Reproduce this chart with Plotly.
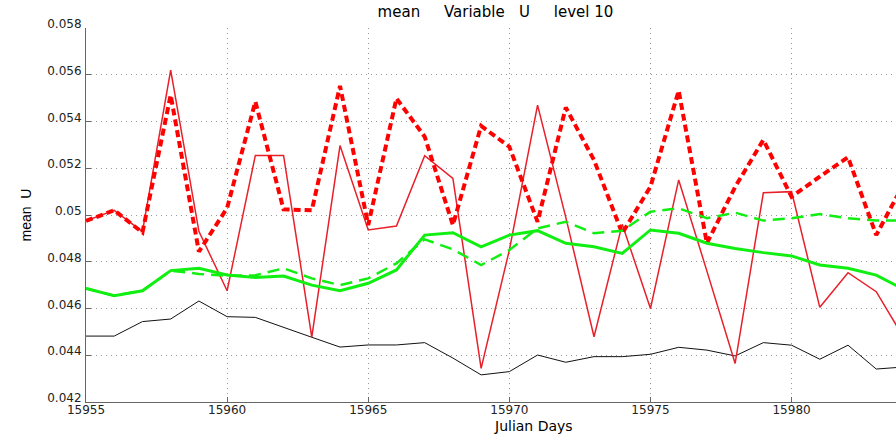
import plotly.graph_objects as go

days = list(range(15955, 15985))

black = [0.04482, 0.04482, 0.04544, 0.04555, 0.04632, 0.04565, 0.04562, 0.04518, 0.04477, 0.04435,
         0.04444, 0.04444, 0.04454, 0.04388, 0.04316, 0.04330, 0.04401, 0.04370, 0.04394, 0.04394,
         0.04404, 0.04434, 0.04422, 0.04397, 0.04454, 0.04443, 0.04383, 0.04443, 0.04341, 0.04350]

red_thin = [0.04975, 0.05020, 0.04929, 0.05620, 0.04930, 0.04676, 0.05255, 0.05255, 0.04478, 0.05297,
            0.04936, 0.04953, 0.05254, 0.05157, 0.04344, 0.04850, 0.05470, 0.04990, 0.04479, 0.04960,
            0.04600, 0.05150, 0.04760, 0.04365, 0.05095, 0.05100, 0.04605, 0.04753, 0.04672, 0.04470]

red_dash = [0.04975, 0.05020, 0.04925, 0.05513, 0.04843, 0.05030, 0.05485, 0.05024, 0.05020, 0.05552,
            0.04957, 0.05499, 0.05335, 0.04957, 0.05381, 0.05292, 0.04971, 0.05460, 0.05235, 0.04922,
            0.05121, 0.05532, 0.04879, 0.05120, 0.05321, 0.05078, 0.05164, 0.05247, 0.04914, 0.05140]

green = [0.04686, 0.04655, 0.04676, 0.04762, 0.04772, 0.04743, 0.04733, 0.04739, 0.04700, 0.04676,
         0.04708, 0.04765, 0.04914, 0.04924, 0.04864, 0.04914, 0.04933, 0.04879, 0.04864, 0.04836,
         0.04936, 0.04922, 0.04879, 0.04857, 0.04839, 0.04825, 0.04786, 0.04772, 0.04743, 0.04680]

green_dash = [0.04686, 0.04655, 0.04676, 0.04762, 0.04748, 0.04740, 0.04742, 0.04772, 0.04729, 0.04700,
              0.04729, 0.04793, 0.04896, 0.04853, 0.04786, 0.04850, 0.04943, 0.04971, 0.04922, 0.04933,
              0.05014, 0.05029, 0.04986, 0.05010, 0.04976, 0.04986, 0.05004, 0.04986, 0.04976, 0.04976]

xticks = [15955, 15960, 15965, 15970, 15975, 15980]
yticks = [0.042, 0.044, 0.046, 0.048, 0.05, 0.052, 0.054, 0.056, 0.058]
ytick_text = ["0.042", "0.044", "0.046", "0.048", "0.05", "0.052", "0.054", "0.056", "0.058"]

fig = go.Figure()
fig.add_trace(go.Scatter(x=days, y=black, mode="lines", line=dict(color="#111111", width=1)))
fig.add_trace(go.Scatter(x=days, y=red_thin, mode="lines", line=dict(color="#e8202a", width=1.5)))
fig.add_trace(go.Scatter(x=days, y=red_dash, mode="lines", line=dict(color="#ff0000", width=4, dash="7px,4px")))
fig.add_trace(go.Scatter(x=days, y=green, mode="lines", line=dict(color="#11ee11", width=3)))
fig.add_trace(go.Scatter(x=days, y=green_dash, mode="lines", line=dict(color="#11ee11", width=2.5, dash="12px,7px")))

xtick_font = dict(family="DejaVu Sans, sans-serif", size=12, color="#222222")
ytick_font = dict(family="DejaVu Sans, sans-serif", size=12, color="#222222")

fig.update_layout(
    width=896, height=434,
    margin=dict(l=86, r=0, t=28, b=32, autoexpand=False),
    paper_bgcolor="white", plot_bgcolor="white",
    showlegend=False,
    font=dict(family="DejaVu Sans, sans-serif", color="black", size=13),
    title=dict(text="mean     Variable   U     level 10", x=0.553, xanchor="center", y=0.972, yanchor="middle",
               font=dict(size=15, family="DejaVu Sans, sans-serif")),
    xaxis=dict(range=[15955, 15983.7], tickvals=xticks, ticktext=[str(t) for t in xticks],
               tickfont=xtick_font, ticklabelstandoff=-3,
               showgrid=True, gridcolor="#999999", griddash="1px,4px", gridwidth=1,
               showline=True, linecolor="#666666", linewidth=1, ticks="inside", ticklen=5,
               tickcolor="#666666", zeroline=False),
    yaxis=dict(range=[0.042, 0.058], tickvals=yticks, ticktext=ytick_text,
               tickfont=ytick_font, ticklabelstandoff=1, ticklabelshift=-4,
               showgrid=True, gridcolor="#999999", griddash="1px,4px", gridwidth=1,
               showline=True, linecolor="#666666", linewidth=1, ticks="inside", ticklen=5,
               tickcolor="#666666", zeroline=False,
               title=dict(text="mean  U", standoff=12,
                          font=dict(size=14, family="Liberation Sans Narrow, Liberation Sans, sans-serif"))),
    annotations=[dict(text="Julian Days", xref="paper", yref="paper", x=0.553, y=-0.065,
                      xanchor="center", yanchor="middle", showarrow=False,
                      font=dict(size=14, family="DejaVu Sans, sans-serif"))],
)

fig.write_html("out.html")
